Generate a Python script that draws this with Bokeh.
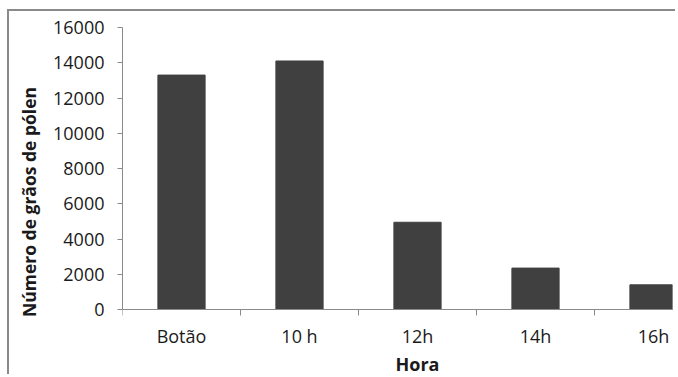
from bokeh.plotting import figure
from bokeh.models import FixedTicker, Range1d, Label
from bokeh.embed import file_html
from bokeh.resources import INLINE

categories = ["Botão", "10 h", "12h", "14h", "16h"]
values = [13300, 14100, 4950, 2350, 1400]
y_ticks = [0, 2000, 4000, 6000, 8000, 10000, 12000, 14000, 16000]

xs = [i + 0.5 for i in range(len(categories))]

W, H = 668, 365
left, top, right = 113, 16, 5
axis_px = 282            # pixels from 0 to 16000
below_px = H - top - axis_px   # frame space below the value 0
units_per_px = 16000 / axis_px
cat_px = 118.0
x_end = (W - left - right) / cat_px

p = figure(width=W, height=H, output_backend="svg", toolbar_location=None,
           x_range=Range1d(0, x_end),
           y_range=Range1d(-below_px * units_per_px, 16000),
           min_border_left=left, min_border_right=right, min_border_top=top,
           min_border_bottom=0)
p.styles = {"margin-left": "7px", "margin-top": "9px",
            "border-top": "2px solid #8a8a8a", "border-left": "2px solid #8a8a8a"}

p.vbar(x=xs, top=values, width=0.4, bottom=0, fill_color="#404040", line_color="#404040")

p.outline_line_color = None
p.xgrid.visible = False
p.ygrid.visible = False

font = "Open Sans"
txt = "#1a1a1a"
axc = "#8a8a8a"

ax = p.xaxis[0]
ax.fixed_location = 0
ax.ticker = FixedTicker(ticks=xs, minor_ticks=list(range(len(categories) + 1)))
ax.major_label_overrides = {x: c for x, c in zip(xs, categories)}
ax.major_tick_out = 0
ax.major_tick_in = 0
ax.minor_tick_out = 6
ax.minor_tick_in = 0
ax.minor_tick_line_color = axc
ax.axis_line_color = axc
ax.major_label_text_font = font
ax.major_label_text_font_size = "18px"
ax.major_label_text_color = txt
ax.major_label_standoff = 8

p.add_layout(Label(x=len(categories) / 2, y=-(66 * units_per_px), text="Hora",
                   text_align="center", text_baseline="bottom",
                   text_font=font, text_font_style="bold", text_font_size="18px",
                   text_color=txt))

ay = p.yaxis[0]
ay.bounds = (0, 16000)
ay.ticker = FixedTicker(ticks=y_ticks)
ay.major_tick_out = 5
ay.major_tick_in = 0
ay.minor_tick_out = 0
ay.minor_tick_in = 0
ay.major_tick_line_color = axc
ay.axis_line_color = axc
ay.major_label_text_font = font
ay.major_label_text_font_size = "18px"
ay.major_label_text_color = txt
ay.major_label_standoff = 13
ay.axis_label = "Número de grãos de pólen"
ay.axis_label_text_font = font
ay.axis_label_text_font_style = "bold"
ay.axis_label_text_font_size = "17.5px"
ay.axis_label_text_color = txt
ay.axis_label_standoff = 9

open("out.html", "w").write(file_html(p, INLINE))
